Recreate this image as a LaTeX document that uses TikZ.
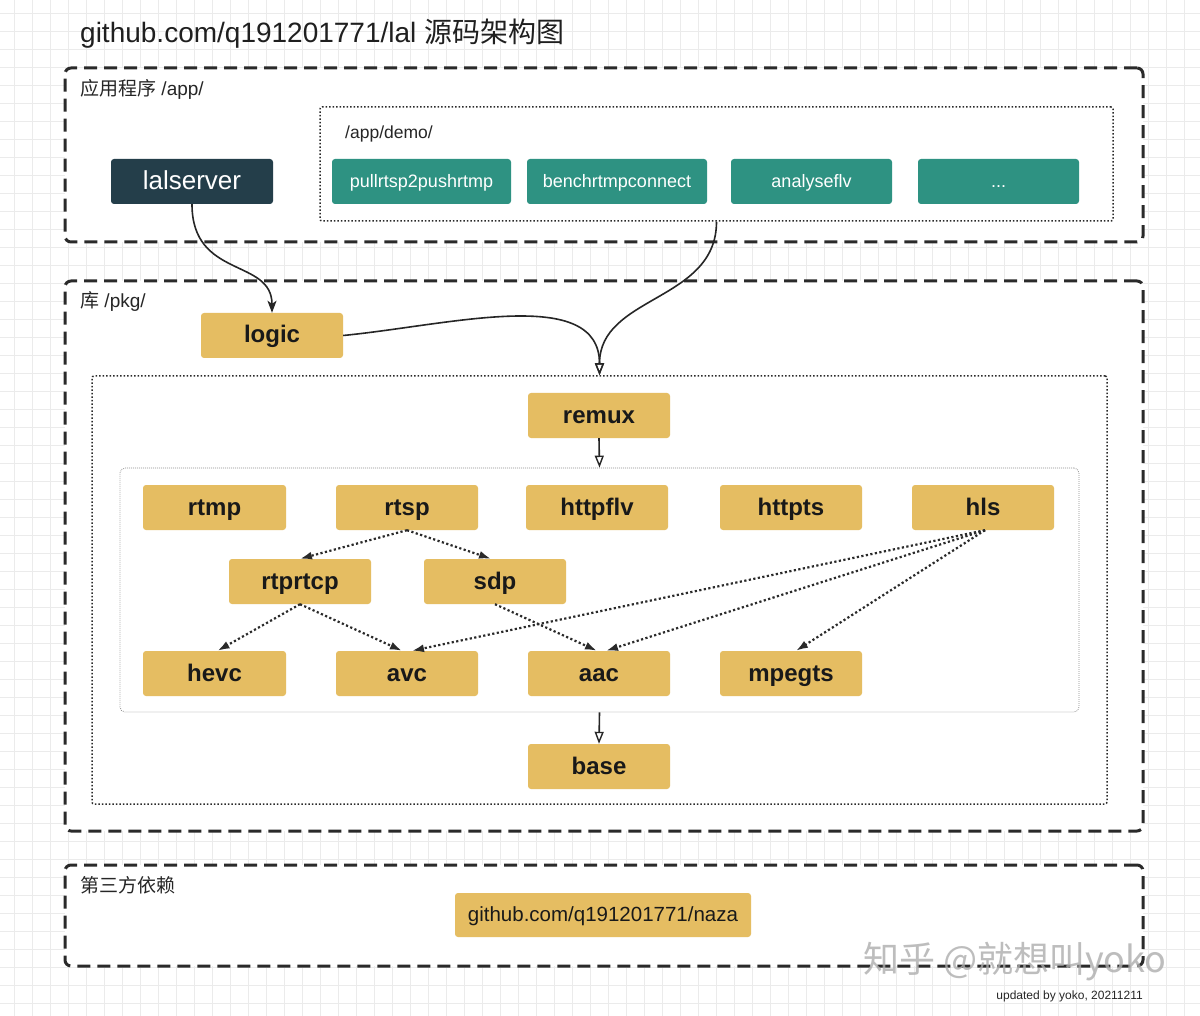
\documentclass[tikz,border=0pt]{standalone}
\usepackage{fontspec}
\setmainfont{Liberation Sans}
\newfontfamily\cjk{Noto Sans CJK SC}
\usetikzlibrary{arrows.meta}
\definecolor{ybox}{HTML}{E5BD62}
\definecolor{tbox}{HTML}{2E9282}
\definecolor{dbox}{HTML}{243E4A}
\definecolor{ink}{HTML}{2A2A2A}
\definecolor{gridc}{HTML}{EBEBEB}
\begin{document}
\begin{tikzpicture}[x=1pt,y=-1pt,
  grp/.style={draw=ink, line width=3pt, dash pattern=on 13pt off 7pt, rounded corners=6pt, fill=white, inner sep=0pt},
  dotgrp/.style={draw=ink, line width=1.5pt, dash pattern=on 1.5pt off 2pt, rounded corners=2pt, inner sep=0pt},
  protogrp/.style={draw=black!45, line width=0.8pt, dash pattern=on 0.8pt off 1.2pt, rounded corners=5pt, inner sep=0pt},
  ybx/.style={fill=ybox, rounded corners=3pt, minimum width=142pt, minimum height=45pt, inner sep=0pt, font=\fontsize{24}{28}\selectfont\bfseries, text=black!90, text height=18.5pt, text depth=3.5pt},
  tbx/.style={fill=tbox, rounded corners=3pt, minimum height=45pt, inner sep=0pt, font=\fontsize{18}{22}\selectfont, text=white, text height=14.5pt, text depth=2.5pt},
  lbl/.style={anchor=base west, inner sep=0pt, text=black!85},
  dotarrow/.style={draw=ink, line width=2.2pt, dash pattern=on 2.2pt off 2.4pt, -{Latex[length=12pt,width=8pt]}},
  curvearrow/.style={draw=black!85, line width=1.6pt},
  openarrow/.style={-{Triangle[open,length=12pt,width=9pt,line width=1.4pt]}}
]
\useasboundingbox (0,0) rectangle (1200,1016);
\fill[white] (0,0) rectangle (1200,1016);
\foreach \i in {14,32,...,1200} \draw[gridc, line width=0.8pt] (\i,0) -- (\i,1016);
\foreach \j in {13,31,...,1016} \draw[gridc, line width=0.8pt] (0,\j) -- (1200,\j);

% title
\node[lbl, font=\fontsize{28}{32}\selectfont, text=black!88] (title) at (80,43) {github.com/q191201771/lal {\cjk 源码架构图}};

% group boxes
\node[grp, minimum width=1078pt, minimum height=174pt] (appbox) at (604,155) {};
\node[grp, minimum width=1078pt, minimum height=550pt] (pkgbox) at (604,556) {};
\node[grp, minimum width=1078pt, minimum height=101pt] (thirdbox) at (604,915.5) {};
\node[dotgrp, minimum width=793pt, minimum height=114pt] (demobox) at (716.5,164) {};
\node[dotgrp, minimum width=1015pt, minimum height=428pt] (corebox) at (599.5,590) {};
\node[protogrp, minimum width=959pt, minimum height=244pt] (protobox) at (599.5,590) {};

% group labels
\node[lbl, font=\fontsize{19}{22}\selectfont] (applbl) at (80,96) {{\cjk 应用程序} /app/};
\node[lbl, font=\fontsize{19}{22}\selectfont] (pkglbl) at (80,308) {{\cjk 库} /pkg/};
\node[lbl, font=\fontsize{19}{22}\selectfont] (thirdlbl) at (80,892) {\cjk 第三方依赖};
\node[lbl, font=\fontsize{17.5}{20}\selectfont] (demolbl) at (345,139) {/app/demo/};

% app nodes
\node[tbx, fill=dbox, minimum width=162pt, font=\fontsize{26}{30}\selectfont, text height=20pt, text depth=3.5pt] (lalserver) at (192,181.5) {lalserver};
\node[tbx, minimum width=179pt] (pull) at (421.5,181.5) {pullrtsp2pushrtmp};
\node[tbx, minimum width=180pt] (bench) at (617,181.5) {benchrtmpconnect};
\node[tbx, minimum width=161pt] (analyse) at (811.5,181.5) {analyseflv};
\node[tbx, minimum width=161pt] (more) at (998.5,181.5) {...};

% pkg nodes
\node[ybx] (logic) at (272,335.5) {logic};
\node[ybx] (remux) at (599,415.5) {remux};
\node[ybx, minimum width=143pt] (rtmp) at (214.5,507.5) {rtmp};
\node[ybx] (rtsp) at (407,507.5) {rtsp};
\node[ybx] (httpflv) at (597,507.5) {httpflv};
\node[ybx] (httpts) at (791,507.5) {httpts};
\node[ybx] (hls) at (983,507.5) {hls};
\node[ybx] (rtprtcp) at (300,581.5) {rtprtcp};
\node[ybx] (sdp) at (495,581.5) {sdp};
\node[ybx, minimum width=143pt] (hevc) at (214.5,673.5) {hevc};
\node[ybx] (avc) at (407,673.5) {avc};
\node[ybx] (aac) at (599,673.5) {aac};
\node[ybx] (mpegts) at (791,673.5) {mpegts};
\node[ybx] (base) at (599,766.5) {base};

% third-party
\node[ybx, minimum width=296pt, minimum height=44pt, font=\fontsize{20.5}{24}\selectfont, text height=16pt, text depth=3pt] (naza) at (603,915) {github.com/q191201771/naza};

% solid connectors
\draw[curvearrow, -{Stealth[length=12pt,width=9pt,inset=3pt]}] (lalserver.south) .. controls +(0,75) and +(0,-55) .. (logic.north);
\draw[curvearrow, openarrow] (demobox.south) .. controls +(0,80) and +(0,-80) .. (corebox.north);
\draw[curvearrow, openarrow] (logic.east) .. controls (450,325) and (599.5,285) .. (corebox.north);
\draw[curvearrow, openarrow] (remux.south) -- (protobox.north);
\draw[curvearrow, openarrow] (protobox.south) -- (base.north);

% dotted connectors
\draw[dotarrow] (rtsp.south) -- (rtprtcp.north);
\draw[dotarrow] (rtsp.south) -- ([xshift=-4pt]sdp.north);
\draw[dotarrow] (rtprtcp.south) -- ([xshift=3pt]hevc.north);
\draw[dotarrow] (rtprtcp.south) -- ([xshift=-5pt]avc.north);
\draw[dotarrow] (sdp.south) -- ([xshift=-2pt]aac.north);
\draw[dotarrow] ([xshift=2pt]hls.south) -- ([xshift=5pt]avc.north);
\draw[dotarrow] ([xshift=2pt]hls.south) -- ([xshift=7pt]aac.north);
\draw[dotarrow] ([xshift=2pt]hls.south) -- ([xshift=5pt]mpegts.north);

% watermark and footer
\node[anchor=west, inner sep=0pt, text=black!32, opacity=0.8, font=\cjk\fontsize{36}{40}\selectfont] (wm) at (863,962) {知乎 @就想叫yoko};
\node[anchor=base east, inner sep=0pt, text=black!85, font=\fontsize{12}{14}\selectfont] (upd) at (1143,999) {updated by yoko, 20211211};
\end{tikzpicture}
\end{document}
